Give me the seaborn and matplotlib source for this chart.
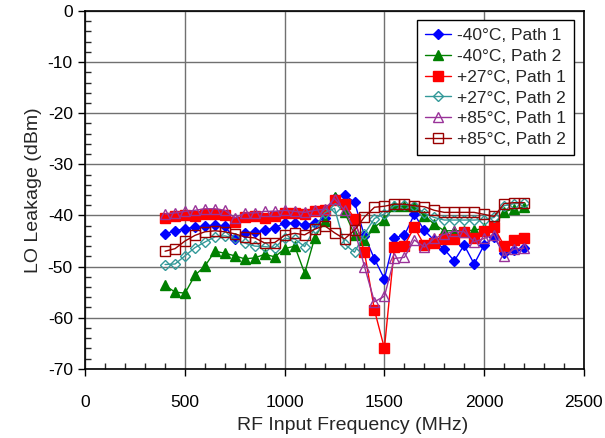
import numpy as np
import pandas as pd
import seaborn as sns
import matplotlib.pyplot as plt
from matplotlib.ticker import MultipleLocator

freq = list(range(400, 2201, 50))

m40_p1 = [-43.6, -43.0, -42.6, -42.3, -42.1, -41.9, -42.1, -44.7, -43.4, -43.3,
          -42.9, -42.4, -41.5, -41.5, -41.8, -41.5, -40.5, -36.6, -36.0, -37.4,
          -44.0, -48.5, -52.4, -44.4, -43.9, -39.8, -42.9, -44.9, -46.6, -48.9,
          -45.8, -49.5, -45.8, -44.3, -47.4, -46.7, -46.4]
m40_p2 = [-53.7, -55.0, -55.2, -51.7, -49.9, -47.0, -47.4, -47.9, -48.5, -48.3,
          -47.6, -48.1, -46.5, -46.0, -51.3, -44.4, -41.0, -36.4, -39.3, -43.8,
          -44.9, -42.3, -40.8, -38.2, -38.2, -38.1, -40.1, -41.7, -43.0, -43.0,
          -43.0, -42.9, -42.5, -42.0, -39.3, -38.7, -38.4]
p27_p1 = [-40.5, -40.2, -39.9, -40.2, -39.7, -39.7, -39.9, -41.3, -40.3, -40.2,
          -40.5, -40.2, -39.5, -39.5, -39.7, -39.2, -39.0, -36.9, -37.7, -40.6,
          -47.2, -58.5, -66.0, -46.2, -45.9, -42.3, -45.8, -45.3, -44.6, -44.6,
          -43.2, -44.5, -43.1, -42.3, -45.9, -44.9, -44.5]
p27_p2 = [-49.6, -49.5, -47.9, -46.3, -45.2, -44.2, -44.0, -44.5, -45.4, -46.0,
          -46.1, -46.3, -44.5, -44.6, -46.1, -42.5, -39.5, -38.6, -45.6, -47.2,
          -43.6, -40.6, -39.7, -38.1, -37.9, -38.1, -39.6, -40.4, -40.9, -40.9,
          -40.9, -40.9, -40.8, -40.4, -38.1, -37.7, -37.6]
p85_p1 = [-39.7, -39.5, -39.2, -39.0, -38.7, -38.7, -39.0, -40.5, -39.5, -39.5,
          -39.2, -39.2, -39.0, -39.2, -39.4, -39.0, -38.8, -36.7, -39.0, -42.8,
          -50.0, -56.9, -55.8, -48.4, -48.2, -44.8, -46.2, -44.5, -43.7, -43.1,
          -43.2, -45.2, -44.5, -43.8, -47.9, -46.6, -46.4]
p85_p2 = [-47.0, -46.5, -45.0, -43.9, -43.2, -43.0, -43.2, -43.6, -44.2, -44.4,
          -45.4, -45.3, -43.9, -43.5, -43.8, -42.7, -42.0, -43.4, -44.6, -42.9,
          -40.3, -38.4, -38.2, -37.8, -37.8, -38.1, -38.3, -39.0, -39.4, -39.4,
          -39.4, -39.4, -39.8, -40.2, -37.7, -37.5, -37.5]

labels = ['-40°C, Path 1', '-40°C, Path 2', '+27°C, Path 1',
          '+27°C, Path 2', '+85°C, Path 1', '+85°C, Path 2']

sns.set_theme(style='ticks')
plt.rcParams['font.family'] = ['Liberation Sans', 'DejaVu Sans']
plt.rcParams['axes.unicode_minus'] = False

fig, ax = plt.subplots(figsize=(6.05, 4.38), dpi=100)
fig.subplots_adjust(left=0.141, right=0.965, top=0.975, bottom=0.158)

# (values, colour, marker, filled, size)
series = [
    (m40_p1, '#0000ff', 'D', True, 5.5),
    (m40_p2, '#008000', '^', True, 7),
    (p27_p1, '#ff0000', 's', True, 6.5),
    (p27_p2, '#339999', 'D', False, 5.5),
    (p85_p1, '#993399', '^', False, 7),
    (p85_p2, '#990000', 's', False, 7),
]

for (vals, col, mk, filled, ms), lab in zip(series, labels):
    sns.lineplot(x=freq, y=vals, ax=ax, color=col, marker=mk, markersize=ms,
                 markerfacecolor=col if filled else 'none',
                 markeredgecolor=col, markeredgewidth=1.0,
                 linewidth=1.0, label=lab)

ax.set_xlim(0, 2500)
ax.set_ylim(-70, 0)
ax.xaxis.set_major_locator(MultipleLocator(500))
ax.xaxis.set_minor_locator(MultipleLocator(100))
ax.yaxis.set_major_locator(MultipleLocator(10))
ax.yaxis.set_minor_locator(MultipleLocator(2))
ax.tick_params(which='major', direction='out', length=5, width=1, labelsize=12.5,
               colors='black', pad=4)
ax.tick_params(which='minor', direction='in', length=4, width=1)
ax.xaxis.set_tick_params(pad=14)
ax.grid(True, which='major', color='#707070', linewidth=1)
for s in ax.spines.values():
    s.set_color('black')
    s.set_linewidth(1.2)

ax.set_xlabel('RF Input Frequency (MHz)', fontsize=14)
ax.set_ylabel('LO Leakage (dBm)', fontsize=14)
ax.xaxis.set_label_coords(0.537, -0.135)

leg = ax.legend(loc='upper right', bbox_to_anchor=(0.98, 0.975), fontsize=12.5,
                frameon=True, fancybox=False, edgecolor='black', framealpha=1,
                handlelength=1.5, handletextpad=0.35, labelspacing=0.33,
                borderpad=0.45, borderaxespad=0)
leg.get_frame().set_linewidth(1)

fig.savefig('out.png', dpi=100)
